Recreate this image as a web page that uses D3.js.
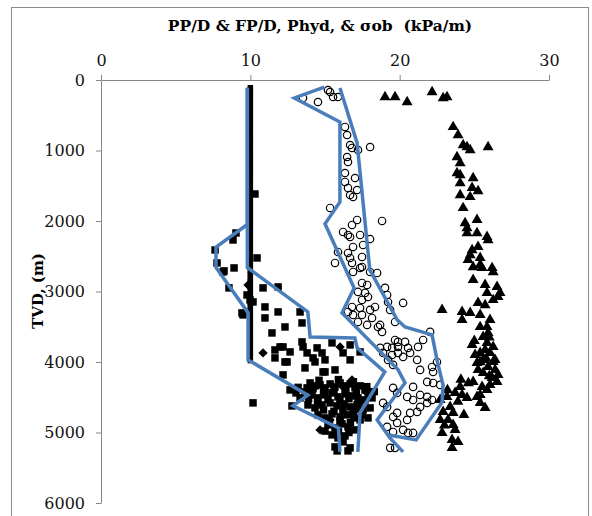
<!DOCTYPE html>
<html>
<head>
<meta charset="utf-8">
<script src="https://cdn.jsdelivr.net/npm/d3@7"></script>
<style>
  body { margin: 0; background: #fff; }
  svg { display: block; }
</style>
</head>
<body>
<svg id="chart" width="592" height="516"></svg>
<script>
// gradient (kPa/m), depth TVD (m)
const xTicks = [0, 10, 20, 30];
const yTicks = [0, 1000, 2000, 3000, 4000, 5000, 6000];

// pore pressure gradient points (squares)
const ppGrad = [10.31, 8.84, 9.04, 10.45, 7.64, 7.77, 8.91, 8.24, 8.57, 9.78, 9.98, 10.85, 11.86, 10.98, 11.86, 10.98, 9.51, 9.44, 12.32, 13.33, 13.46, 11.45, 11.65, 11.99, 12.66, 11.65, 12.46, 13.53, 13.8, 14.47, 14.8, 14.33, 15.0, 13.66, 15.0, 12.19, 13.8, 10.18, 12.79, 13.46, 14.2, 15.47, 16.21, 16.68, 15.67, 16.68, 17.35, 14.87, 12.66, 10.18, 8.17, 12.19, 12.32,
  14.0, 14.33, 14.67, 15.0, 15.34, 15.67, 16.01, 16.34, 16.68, 17.01, 17.35, 17.68, 18.02, 13.66, 14.13, 14.53, 15.0, 15.47, 15.87, 16.34, 16.81, 17.21, 17.68, 18.15, 13.86, 14.33, 14.8, 15.34, 15.81, 16.28, 16.68, 17.15, 17.55, 18.02, 14.53, 15.0, 15.47, 16.01, 16.48, 16.95, 17.35, 15.2, 15.67, 16.14, 16.54, 17.01, 15.47, 15.87, 16.34, 15.67, 16.21, 16.68, 16.54, 15.81, 13.33, 13.06, 17.48, 17.88,
  14.2, 14.9, 15.6, 16.4, 17.1, 17.9, 14.5, 15.2, 16.0, 16.6, 17.3, 14.9, 15.6, 16.2, 16.9, 15.3, 16.0, 16.7, 15.9, 16.6, 15.0, 13.2, 13.9, 17.8, 18.3, 16.9, 15.9, 14.6];
const ppDepth = [1617, 2269, 2170, 2524, 2411, 2595, 2666, 2708, 2949, 3049, 3120, 2949, 2935, 3219, 3290, 3375, 3332, 3304, 3503, 3290, 3446, 3588, 3829, 3786, 3857, 3942, 3999, 3786, 3871, 3800, 3871, 3999, 3970, 4084, 4141, 4183, 4367, 4580, 4623, 3715, 3942, 3729, 3871, 3970, 4112, 3758, 3857, 4141, 4396, 3148, 2723, 3786, 3999,
  4297, 4339, 4325, 4367, 4311, 4353, 4297, 4339, 4311, 4367, 4339, 4396, 4424, 4424, 4467, 4509, 4467, 4438, 4495, 4452, 4481, 4509, 4538, 4509, 4609, 4651, 4609, 4580, 4623, 4594, 4637, 4609, 4679, 4651, 4750, 4793, 4736, 4779, 4750, 4793, 4821, 4892, 4935, 4878, 4920, 4963, 5034, 5077, 5048, 5204, 5133, 5218, 5261, 5261, 4509, 4438, 4750, 4793,
  4380, 4420, 4400, 4390, 4440, 4470, 4560, 4530, 4540, 4520, 4570, 4680, 4700, 4690, 4720, 4850, 4830, 4860, 4990, 5000, 4980, 4360, 4520, 4350, 4420, 4280, 4250, 4260];

// mud weight points (diamonds)
const mwGrad = [9.85, 10.85, 16.01, 14.13, 16.81, 17.75, 15.34, 16.14, 17.08, 14.67];
const mwDepth = [2907, 3871, 3786, 4339, 4254, 4424, 4821, 4339, 4679, 4963];

// hydrostatic gradient column
const phydGrad = 10.0;
const phydDepth = [110, 140, 170, 200, 240, 270, 310, 350, 390, 430, 470, 510, 560, 600, 650, 690, 740, 780, 830, 870, 920, 960, 1010, 1050, 1100, 1140, 1190, 1230, 1280, 1320, 1370, 1410, 1460, 1500, 1550, 1590, 1640, 1680, 1730, 1770, 1820, 1860, 1910, 1950, 2000, 2040, 2090, 2130, 2180, 2220, 2270, 2310, 2360, 2400, 2450, 2490, 2540, 2580, 2630, 2670, 2720, 2760, 2810, 2850, 2900, 2940, 2990, 3030, 3080, 3120, 3170, 3210, 3260, 3300, 3350, 3390, 3440, 3480, 3530, 3570, 3620, 3660, 3710, 3750, 3800, 3840, 3890, 3930, 3980];

// fracture pressure gradient points (open circles)
const fpGrad = [15.2, 15.34, 15.54, 15.87, 13.53, 14.53, 16.34, 16.48, 16.68, 16.81, 17.21, 18.02, 16.48, 16.54, 16.34, 17.01, 16.34, 16.54, 17.15, 16.68, 16.88, 15.34, 18.82, 17.15, 16.81, 16.21, 16.54, 17.35, 18.02, 16.88, 15.87, 16.54, 17.48, 16.68, 15.67, 16.81, 17.48, 17.55, 16.68, 16.88, 17.35, 18.02, 18.49, 17.48, 17.82, 19.02, 17.21, 17.68, 17.88, 17.48, 19.16, 19.22, 20.23, 16.81, 17.35, 18.02, 18.35, 19.36, 16.54, 16.88, 17.48, 18.15, 17.21, 17.82, 18.55, 19.69, 18.69, 18.82, 22.04, 21.57, 19.69, 19.89, 20.36, 19.16, 19.49, 19.89, 20.56, 21.23, 21.17, 18.69, 18.89, 19.49, 19.89, 20.23, 20.7, 19.22, 19.56, 21.37, 22.17, 22.24, 22.5, 19.56, 20.9, 21.84, 22.24, 22.71, 21.37, 21.84, 20.9, 19.83, 20.5, 18.89, 19.16, 21.37, 21.84, 22.17, 19.83, 19.56, 20.7, 21.17, 20.5, 19.83, 19.16, 20.23, 19.56, 20.56, 20.9, 19.36, 19.69];
const fpDepth = [142, 170, 241, 241, 255, 312, 666, 780, 922, 964, 993, 950, 1092, 1163, 1319, 1390, 1446, 1531, 1560, 1631, 1659, 1815, 1999, 1985, 2056, 2155, 2198, 2198, 2255, 2368, 2439, 2453, 2510, 2524, 2595, 2595, 2652, 2340, 2226, 2723, 2666, 2723, 2737, 2879, 2907, 2949, 3006, 3020, 3077, 3120, 3049, 3148, 3162, 3219, 3233, 3261, 3219, 3261, 3290, 3332, 3332, 3375, 3432, 3474, 3503, 3432, 3474, 3573, 3573, 3687, 3687, 3715, 3715, 3786, 3800, 3786, 3800, 3786, 3970, 3800, 3871, 3900, 3871, 3928, 3871, 3970, 4041, 4112, 4070, 4141, 3999, 4367, 4353, 4282, 4297, 4325, 4467, 4495, 4538, 4438, 4495, 4580, 4637, 4637, 4580, 4538, 4722, 4779, 4722, 4708, 4821, 4864, 4920, 4963, 4992, 5006, 5006, 5218, 5218];

// overburden gradient points (triangles)
const obGrad = [19.02, 19.69, 20.5, 22.17, 22.91, 23.17, 23.58, 23.91, 24.25, 24.51, 24.72, 25.92, 23.84, 24.05, 23.84, 24.05, 24.92, 24.05, 24.85, 25.25, 24.05, 24.72, 24.25, 25.18, 24.38, 24.51, 25.18, 24.51, 25.85, 25.92, 25.25, 24.85, 24.72, 25.39, 24.58, 24.92, 25.52, 26.19, 25.39, 26.26, 24.92, 25.72, 26.52, 26.72, 25.85, 26.26, 26.59, 25.25, 25.72, 24.18, 24.72, 25.39, 22.84, 24.18, 26.05, 25.39, 25.85, 25.59, 25.92, 24.85, 25.85, 26.26, 25.39, 26.05, 25.59, 26.26, 25.18, 25.92, 26.39, 26.59, 25.59, 26.19, 26.52, 24.92, 25.52, 25.85, 24.05, 23.71, 24.18, 24.51, 23.17, 22.71, 25.18, 25.39, 25.72, 23.38, 23.58, 22.91, 22.71, 23.24, 23.58, 23.71, 22.84, 23.51, 23.91, 23.51, 25.05, 25.72, 25.25, 26.05, 26.39, 25.39,
  25.0, 26.0, 25.4, 26.0, 24.6, 23.2, 23.9, 24.3, 23.0, 24.1, 25.8];
const obDepth = [241, 241, 312, 170, 255, 241, 666, 780, 922, 950, 993, 950, 1092, 1177, 1319, 1347, 1390, 1461, 1531, 1574, 1631, 1659, 1815, 1985, 2028, 2099, 2170, 2170, 2226, 2269, 2368, 2411, 2482, 2524, 2552, 2652, 2666, 2666, 2623, 2723, 2836, 2907, 2935, 3020, 3020, 3120, 3077, 3162, 3191, 3290, 3304, 3332, 3261, 3403, 3403, 3503, 3503, 3644, 3588, 3758, 3729, 3786, 3871, 3871, 3970, 3999, 4013, 4070, 4112, 4183, 4155, 4226, 4282, 4282, 4353, 4396, 4353, 4438, 4467, 4509, 4495, 4538, 4495, 4580, 4651, 4637, 4722, 4708, 4821, 4821, 4892, 4963, 5006, 5105, 5133, 5218, 3900, 3829, 4112, 4325, 3970, 4467,
  3700, 3650, 4000, 4200, 4300, 4400, 4560, 4750, 4900, 4250, 3950];

// hand-drawn envelope lines (gradient, depth)
const ppLowGrad = [9.8, 9.8, 7.7, 7.7, 9.85, 9.85, 13.85, 12.85, 15.9, 16.0];
const ppLowDepth = [110, 2050, 2370, 2660, 3300, 3970, 4470, 4620, 4935, 5275];
const ppHighGrad = [9.8, 9.8, 13.85, 14.0, 17.0, 17.15, 19.0, 17.35, 17.2];
const ppHighDepth = [110, 2660, 3290, 3645, 3660, 3800, 4140, 4720, 5275];
const fpLowGrad = [14.95, 12.95, 16.0, 16.0, 15.0, 16.95, 16.14, 19.9, 20.36, 18.49, 19.36, 20.23];
const fpLowDepth = [100, 255, 596, 1730, 2040, 2950, 3304, 4112, 4297, 4821, 5080, 5275];
const fpHighGrad = [16.0, 17.15, 18.0, 19.83, 20.36, 22.17, 22.5, 22.9, 22.84, 21.1, 19.36];
const fpHighDepth = [113, 893, 2694, 3403, 3503, 3615, 3970, 4325, 4570, 5105, 5040];

const svg = d3.select("#chart");
const W = 592, H = 516;
const margin = { left: 101, top: 80, right: 43, bottom: 13 };

const x = d3.scaleLinear().domain([0, 30]).range([margin.left, W - margin.right]);
const y = d3.scaleLinear().domain([0, 6000]).range([margin.top, H - margin.bottom]);

const serif = "'DejaVu Serif', 'Liberation Serif', serif";

// chart frame
svg.append("rect")
  .attr("x", 11.5).attr("y", 7.5)
  .attr("width", 577).attr("height", 530)
  .attr("fill", "none").attr("stroke", "#8c8c8c").attr("stroke-width", 1);

// axes
const xAxis = svg.append("g")
  .attr("transform", `translate(0,${margin.top})`)
  .call(d3.axisTop(x).tickValues(xTicks).tickFormat(d3.format("d"))
    .tickSize(5).tickPadding(9).tickSizeOuter(0));
const yAxis = svg.append("g")
  .attr("transform", `translate(${margin.left},0)`)
  .call(d3.axisLeft(y).tickValues(yTicks).tickFormat(d3.format("d"))
    .tickSize(5).tickPadding(11).tickSizeOuter(0));

[xAxis, yAxis].forEach((g) => {
  g.select(".domain").attr("stroke", "#868686");
  g.selectAll(".tick line").attr("stroke", "#868686");
  g.selectAll(".tick text")
    .attr("fill", "#111")
    .style("font-family", serif)
    .style("font-size", "16px");
});

// title and y label
svg.append("text")
  .attr("x", 320).attr("y", 31)
  .attr("text-anchor", "middle")
  .style("white-space", "pre")
  .style("font-family", serif).style("font-size", "15.5px").style("font-weight", "bold")
  .text("PP/D & FP/D, Phyd, & σob  (kPa/m)");

svg.append("text")
  .attr("transform", "translate(43,291) rotate(-90)")
  .attr("text-anchor", "middle")
  .style("font-family", serif).style("font-size", "15px").style("font-weight", "bold")
  .text("TVD, (m)");

// markers
const marks = svg.append("g");
const zip = (a, b) => a.map((v, i) => [v, b[i]]);

marks.selectAll(".phyd")
  .data(phydDepth)
  .join("path")
  .attr("class", "phyd")
  .attr("transform", (d) => `translate(${x(phydGrad)},${y(d)})`)
  .attr("d", d3.symbol(d3.symbolSquare, 30))
  .attr("fill", "#000");

marks.selectAll(".pp")
  .data(zip(ppGrad, ppDepth))
  .join("path")
  .attr("class", "pp")
  .attr("transform", (d) => `translate(${x(d[0])},${y(d[1])})`)
  .attr("d", d3.symbol(d3.symbolSquare, 56))
  .attr("fill", "#000");

marks.selectAll(".mw")
  .data(zip(mwGrad, mwDepth))
  .join("path")
  .attr("class", "mw")
  .attr("transform", (d) => `translate(${x(d[0])},${y(d[1])})`)
  .attr("d", d3.symbol(d3.symbolDiamond2, 56))
  .attr("fill", "#000");

marks.selectAll(".fp")
  .data(zip(fpGrad, fpDepth))
  .join("circle")
  .attr("class", "fp")
  .attr("cx", (d) => x(d[0]))
  .attr("cy", (d) => y(d[1]))
  .attr("r", 3.7)
  .attr("fill", "none")
  .attr("stroke", "#000")
  .attr("stroke-width", 1.2);

marks.selectAll(".ob")
  .data(zip(obGrad, obDepth))
  .join("path")
  .attr("class", "ob")
  .attr("transform", (d) => `translate(${x(d[0])},${y(d[1])})`)
  .attr("d", d3.symbol(d3.symbolTriangle, 52))
  .attr("fill", "#000");

// envelope lines
const line = d3.line().x((d) => x(d[0])).y((d) => y(d[1]));
const envelopes = [
  zip(ppLowGrad, ppLowDepth),
  zip(ppHighGrad, ppHighDepth),
  zip(fpLowGrad, fpLowDepth),
  zip(fpHighGrad, fpHighDepth),
];

svg.append("g")
  .selectAll("path")
  .data(envelopes)
  .join("path")
  .attr("d", line)
  .attr("fill", "none")
  .attr("stroke", "#4a7ebb")
  .attr("stroke-width", 3.5)
  .attr("stroke-linejoin", "miter");
</script>
</body>
</html>
